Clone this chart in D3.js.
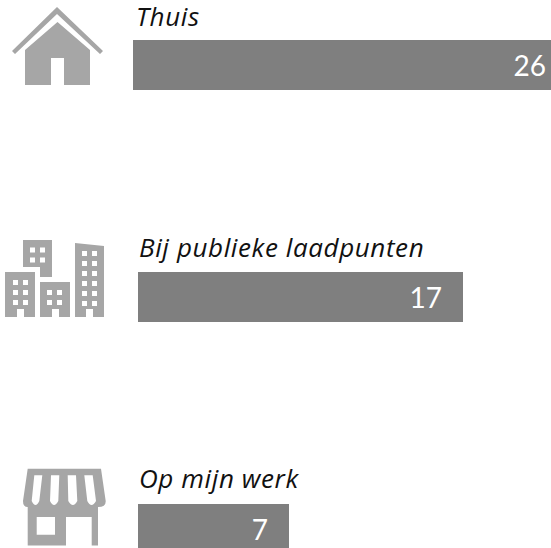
<!DOCTYPE html>
<html>

<head>
    <script src="https://d3js.org/d3.v7.min.js"></script>
    <style>
        html, body {
            margin: 0;
            padding: 0;
            background: #fff;
            overflow: hidden;
        }

        .label {
            font-family: "Open Sans", sans-serif;
            font-style: italic;
            font-size: 26px;
            letter-spacing: 0.6px;
            fill: #111;
        }

        .value {
            font-family: Lato, sans-serif;
            font-size: 28px;
            fill: #fff;
            text-anchor: end;
        }
    </style>
</head>

<body>
    <div id="chart"></div>

    <script>
        const categories = ["Thuis", "Bij publieke laadpunten", "Op mijn werk"];
        const values = [26, 17, 7];

        const width = 551, height = 548;
        const grey = "#7f7f7f", iconGrey = "#a6a6a6";

        const svg = d3.select("#chart").append("svg")
            .attr("width", width)
            .attr("height", height)
            .style("display", "block");

        // rows sit 232px apart, the labels a little less
        const y = d3.scalePoint().domain(categories).range([40, 504]);
        const labelY = d3.scalePoint().domain(categories).range([26, 488]);

        // bars in the original are not proportional to their labels, so the length scale bends.
        // the longest bar runs off the right edge of the page
        const x = d3.scaleLinear().domain([7, 17, 26]).range([151, 325, 434]);
        const barLeft = d => d === "Thuis" ? 133 : 138;

        const rows = categories.map((c, i) => ({ name: c, value: values[i] }));

        const row = svg.selectAll("g.row").data(rows).join("g")
            .attr("class", "row")
            .attr("transform", d => `translate(${barLeft(d.name)},${y(d.name)})`);

        row.append("rect")
            .attr("width", d => x(d.value))
            .attr("height", 50)
            .attr("fill", grey);

        row.append("text")
            .attr("class", "label")
            .attr("x", d => d.name === "Thuis" ? 3 : 1)
            .attr("y", d => labelY(d.name) - y(d.name))
            .text(d => d.name);

        row.append("text")
            .attr("class", "value")
            .attr("x", d => x(d.value) - 21)
            .attr("y", 36)
            .text(d => d.value);

        // pictograms
        const house = svg.append("g").attr("fill", iconGrey);
        house.append("path").attr("d", "M12 51L57 7L103 51L100 54L57 14L15 54Z");
        house.append("path").attr("d", "M25 50L57.5 22L90 50V85H64V58H51V85H25Z");

        const city = svg.append("g").attr("fill", iconGrey);
        const windows = (x0, y0, cols, rws) => {
            for (let r = 0; r < rws; r++) {
                for (let c = 0; c < cols; c++) {
                    city.append("rect")
                        .attr("x", x0 + c * 10).attr("y", y0 + r * 10)
                        .attr("width", 5).attr("height", 5)
                        .attr("fill", "#fff");
                }
            }
        };
        city.append("path").attr("d", "M23 240H52V277H40V267H23Z");
        city.append("path").attr("d", "M5 272H35V317H24V309H17V317H5Z");
        city.append("path").attr("d", "M40 282H70V317H59V309H52V317H40Z");
        city.append("path").attr("d", "M75 243L104 246V317H93V309H86V317H75Z");
        windows(30, 247.5, 2, 2);
        windows(13, 280, 2, 3);
        windows(47, 290, 2, 2);
        windows(82, 251, 2, 6);

        const shop = svg.append("g").attr("fill", iconGrey);
        shop.append("path").attr("fill-rule", "evenodd")
            .attr("d", "M27.7 468.7H101L105.7 501Q106 507 98 507V545.5H91.7V517H66V545.5H27.7V507Q23 507 23 501Z"
                + "M34.3 475.3H42.3L39.3 501Q35.5 509 31.7 501Z"
                + "M51 475.3H59.3L58.3 501Q54 509 50 501Z"
                + "M67.7 475.3H76L77.3 501Q73 509 68.3 501Z"
                + "M84.3 475.3H92.7L96 501Q91.5 509 87.3 501Z"
                + "M36.7 517V534.7H55V517Z");
    </script>
</body>

</html>
